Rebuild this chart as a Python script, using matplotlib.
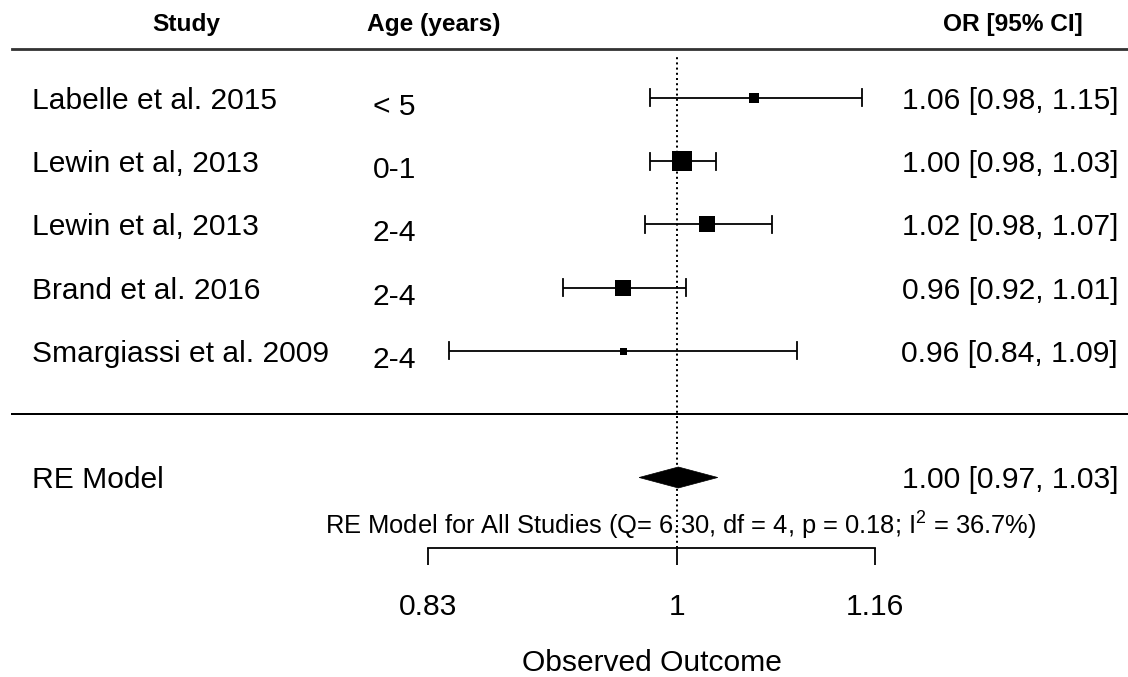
import numpy as np
import matplotlib
matplotlib.use("Agg")
import matplotlib.pyplot as plt
from matplotlib.transforms import blended_transform_factory
from matplotlib.ticker import FixedLocator, FixedFormatter, NullLocator
from matplotlib.patches import Polygon

# ---------------- data ----------------
studies = ["Labelle et al. 2015", "Lewin et al, 2013", "Lewin et al, 2013",
           "Brand et al. 2016", "Smargiassi et al. 2009"]
ages = ["< 5", "0-1", "2-4", "2-4", "2-4"]
est = [1.059, 1.004, 1.023, 0.960, 0.960]
lower = [0.980, 0.980, 0.976, 0.918, 0.843]
upper = [1.149, 1.030, 1.074, 1.007, 1.094]
weights = [12.5, 37.0, 24.0, 23.5, 3.0]   # % weight (square size)

re_est, re_lower, re_upper = 1.001, 0.972, 1.031
Q, df, p, I2 = 6.30, 4, 0.18, 36.7

xticks = [0.83, 1.0, 1.16]
xticklabels = ["0.83", "1", "1.16"]
headers = ["Study", "Age (years)", "OR [95% CI]"]

# ---------------- style ----------------
plt.rcParams['font.family'] = ['Liberation Sans', 'DejaVu Sans']
plt.rcParams['mathtext.fontset'] = 'custom'
plt.rcParams['mathtext.rm'] = 'Liberation Sans'
plt.rcParams['mathtext.it'] = 'Liberation Sans:italic'

W, H, DPI = 1128, 677, 100
PT = 72.0 / DPI           # points per pixel
FS = 30 * PT              # main font
FS_HEAD = 24.5 * PT
FS_STAT = 25.5 * PT
LW = 1.8 * PT

fig = plt.figure(figsize=(W / DPI, H / DPI), dpi=DPI)
ax = fig.add_axes([0, 0, 1, 1])

# horizontal: log scale, 1 at px 677, 1335 px per ln unit
x_ref_px, px_per_ln = 677.0, 1335.0
ax.set_xscale('log')
ax.set_xlim(np.exp(-x_ref_px / px_per_ln), np.exp((W - x_ref_px) / px_per_ln))
# vertical: rows (metafor style), row 1 at px 351, 63.25 px per row
row1_px, px_per_row = 351.0, 63.25
ax.set_ylim(1 - (H - row1_px) / px_per_row, 1 + row1_px / px_per_row)

k = len(studies)
rows = np.arange(k, 0, -1)
re_row = -1
axis_row = -2.115

tr = blended_transform_factory(ax.transAxes, ax.transData)
def fx(px):
    return px / W

# CI lines + caps
cap = 8.5 / px_per_row
for r, lo, hi in zip(rows, lower, upper):
    ax.plot([lo, hi], [r, r], color='black', lw=LW, solid_capstyle='butt')
    ax.plot([lo, lo], [r - cap, r + cap], color='black', lw=LW)
    ax.plot([hi, hi], [r - cap, r + cap], color='black', lw=LW)

# squares sized by weight
wmin, wmax = min(weights), max(weights)
for r, e, w in zip(rows, est, weights):
    side_px = 7 + 13.5 * (w - wmin) / (wmax - wmin)
    ax.plot([e], [r], marker='s', markersize=side_px * PT, color='black',
            markeredgewidth=0, linestyle='none', zorder=3)

# diamond for RE model
dh = 10.5 / px_per_row
ax.add_patch(Polygon([(re_lower, re_row), (re_est, re_row + dh),
                      (re_upper, re_row), (re_est, re_row - dh)],
                     closed=True, facecolor='black', edgecolor='black', lw=0.5, zorder=3))

# reference line
ax.plot([1, 1], [axis_row, 5.66], color='black', lw=2.0 * PT,
        linestyle=(0, (1.0, 1.6)), zorder=1)

# horizontal separators
ax.axhline(5.775, xmin=fx(12), xmax=1, color='#333333', lw=2.8 * PT)
ax.axhline(0, xmin=fx(12), xmax=1, color='black', lw=2.0 * PT)

# study texts
for r, s, a, e, lo, hi in zip(rows, studies, ages, est, lower, upper):
    ax.text(fx(32), r, s, transform=tr, ha='left', va='center_baseline', fontsize=FS)
    ax.text(fx(394.5), r - 6 / px_per_row, a, transform=tr, ha='center',
            va='center_baseline', fontsize=FS)
    ax.text(fx(1118), r, f"{e:.2f} [{lo:.2f}, {hi:.2f}]", transform=tr,
            ha='right', va='center_baseline', fontsize=FS)

# RE row
ax.text(fx(32), re_row, "RE Model", transform=tr, ha='left', va='center_baseline', fontsize=FS)
ax.text(fx(1118), re_row, f"{re_est:.2f} [{re_lower:.2f}, {re_upper:.2f}]", transform=tr,
        ha='right', va='center_baseline', fontsize=FS)
ax.text(fx(325), -1.70,
        f"RE Model for All Studies (Q= {Q:.2f}, df = {df}, p = {p:.2f}; "
        + r"I$^{\mathrm{2}}$" + f" = {I2:.1f}%)",
        transform=tr, ha='left', va='center_baseline', fontsize=FS_STAT)

# headers
head_row = 6.20
ax.text(fx(186.5), head_row, headers[0], transform=tr, ha='center', va='center_baseline',
        fontsize=FS_HEAD, fontweight='bold')
ax.text(fx(434), head_row, headers[1], transform=tr, ha='center', va='center_baseline',
        fontsize=FS_HEAD, fontweight='bold')
ax.text(fx(1083), head_row, headers[2], transform=tr, ha='right', va='center_baseline',
        fontsize=FS_HEAD, fontweight='bold')

# x axis
for side in ['top', 'left', 'right']:
    ax.spines[side].set_visible(False)
ax.spines['bottom'].set_position(('data', axis_row))
ax.spines['bottom'].set_bounds(xticks[0], xticks[-1])
ax.spines['bottom'].set_linewidth(LW)
ax.xaxis.set_major_locator(FixedLocator(xticks))
ax.xaxis.set_major_formatter(FixedFormatter(xticklabels))
ax.xaxis.set_minor_locator(NullLocator())
ax.tick_params(axis='x', direction='out', length=17 * PT, width=LW,
               pad=28 * PT, labelsize=FS)
ax.set_yticks([])

ax.text(np.sqrt(xticks[0] * xticks[-1]), -3.885, "Observed Outcome",
        ha='center', va='center_baseline', fontsize=FS)

fig.savefig("out.png", dpi=DPI)
